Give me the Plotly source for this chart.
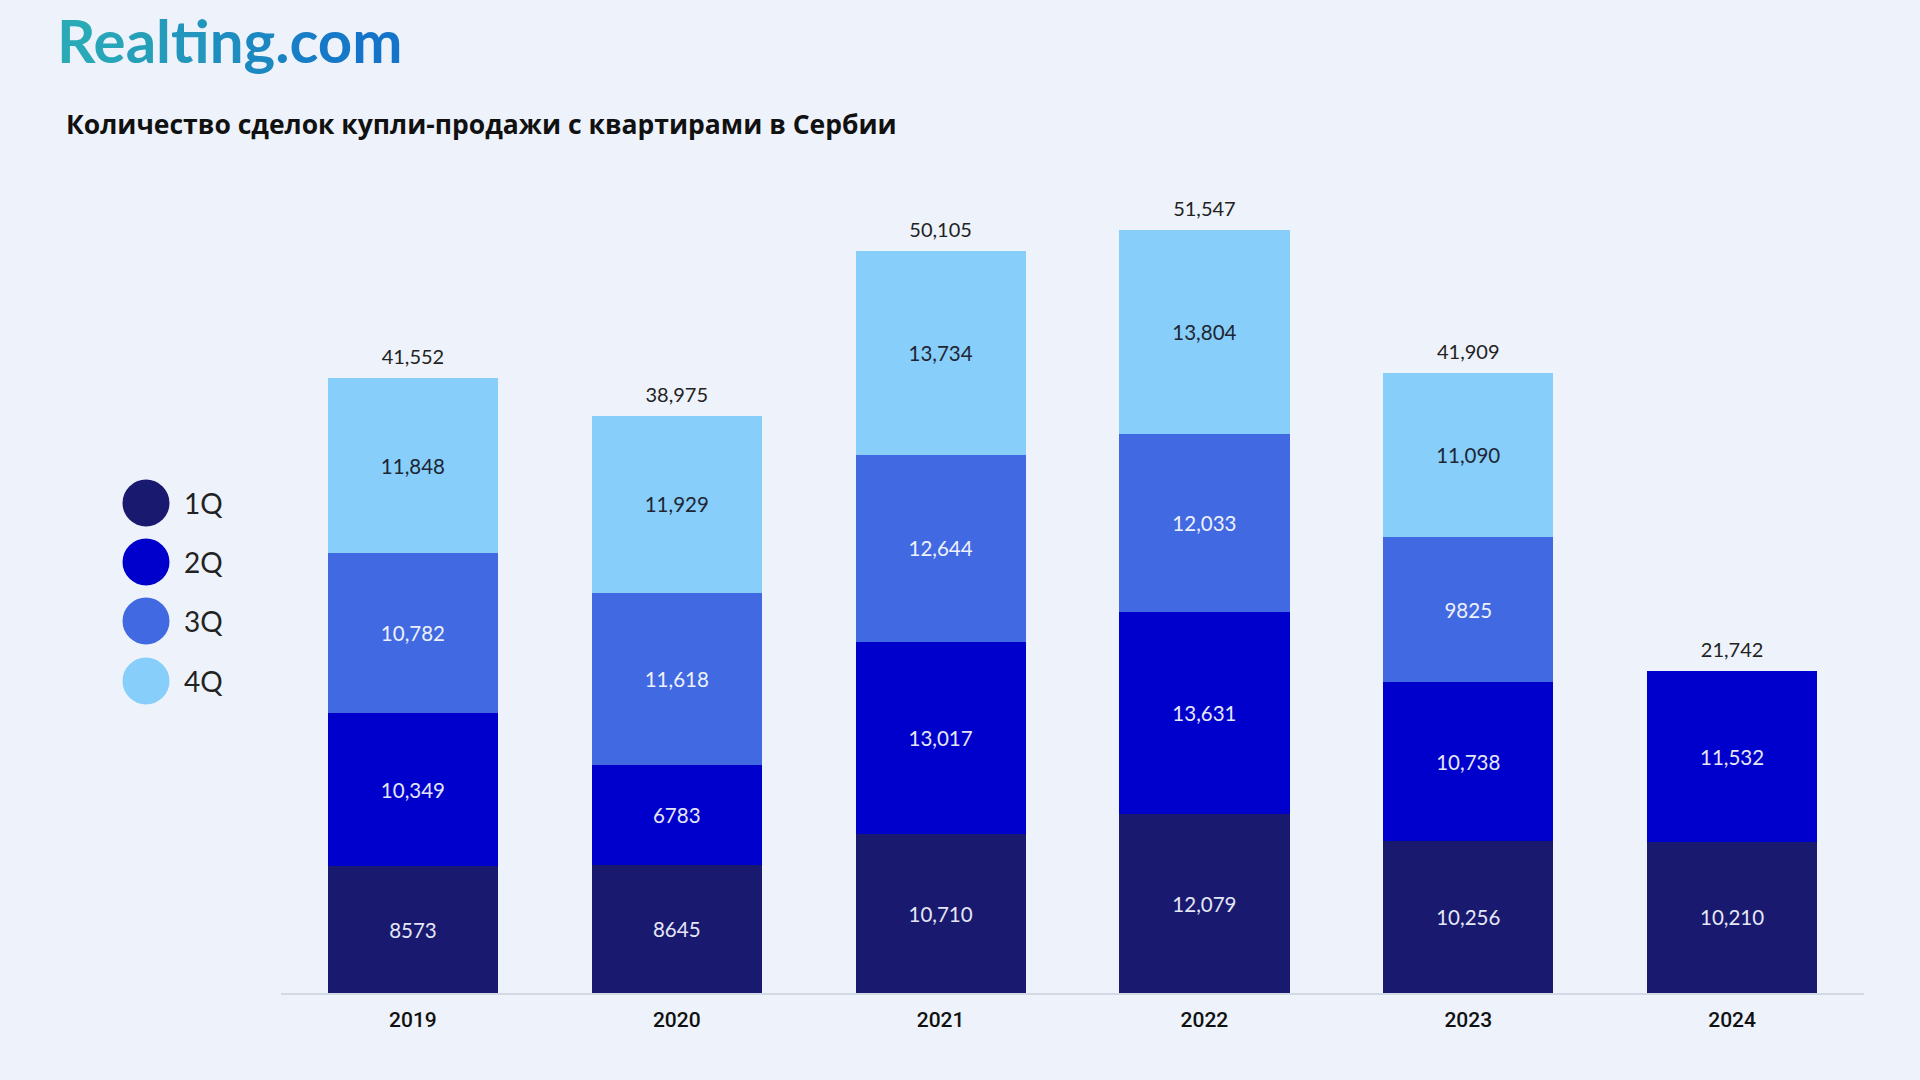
import plotly.graph_objects as go

years = ["2019", "2020", "2021", "2022", "2023", "2024"]
series_names = ["1Q", "2Q", "3Q", "4Q"]
q1 = [8573, 8645, 10710, 12079, 10256, 10210]
q2 = [10349, 6783, 13017, 13631, 10738, 11532]
q3 = [10782, 11618, 12644, 12033, 9825, None]
q4 = [11848, 11929, 13734, 13804, 11090, None]
totals = [41552, 38975, 50105, 51547, 41909, 21742]

colors = ["#191970", "#0000CD", "#4169E1", "#87CEFA"]
text_colors = ["#E4E7F5", "#E4E7F5", "#EEF1FB", "#1E2633"]
BG = "#EEF3FB"

W, H = 1920, 1080
L, R_, T, B = 281, 56, 180, 87
plot_w = W - L - R_
plot_h = H - T - B
Y_MAX = 54925


def fmt(v):
    return f"{v:,}" if v >= 10000 else str(v)


def px_x(px):
    return (px - L) / plot_w


def px_y(py):
    return (H - B - py) / plot_h


fig = go.Figure()
for name, vals, col, tcol in zip(series_names, [q1, q2, q3, q4], colors, text_colors):
    xs = [yr for yr, v in zip(years, vals) if v is not None]
    ys = [v for v in vals if v is not None]
    fig.add_trace(go.Bar(
        x=xs, y=ys, name=name,
        marker=dict(color=col, line=dict(width=0)),
        text=[fmt(v) for v in ys],
        textposition="inside", insidetextanchor="middle", textangle=0,
        textfont=dict(family="Lato", size=20.5, color=tcol),
        cliponaxis=False, showlegend=False,
    ))

fig.add_trace(go.Scatter(
    x=years, y=totals, mode="markers+text",
    marker=dict(size=13, color="rgba(0,0,0,0)"),
    text=[fmt(v) for v in totals], textposition="top center",
    textfont=dict(family="Lato", size=20, color="#222222"),
    cliponaxis=False, showlegend=False, hoverinfo="skip",
))

shapes = []
annotations = []
legend_y = [503, 562, 621, 681]
for name, col, ly in zip(series_names, colors, legend_y):
    shapes.append(dict(
        type="circle", xref="paper", yref="paper",
        xsizemode="pixel", ysizemode="pixel",
        xanchor=px_x(146), yanchor=px_y(ly),
        x0=-23.5, x1=23.5, y0=-23.5, y1=23.5,
        fillcolor=col, line=dict(width=0),
    ))
    annotations.append(dict(
        xref="paper", yref="paper", x=px_x(182), y=px_y(ly),
        xanchor="left", yanchor="middle", showarrow=False,
        text=name, font=dict(family="Lato", size=28, color="#222222"),
    ))

# Logo with gradient letters
logo = "Realting.com"
c0 = (0x2A, 0xAA, 0xB6)
c1 = (0x14, 0x74, 0xC9)
parts = []
for i, ch in enumerate(logo):
    t = i / (len(logo) - 1)
    c = tuple(round(a + (b - a) * t) for a, b in zip(c0, c1))
    parts.append(f'<span style="color:#{c[0]:02X}{c[1]:02X}{c[2]:02X}">{ch}</span>')
annotations.append(dict(
    xref="paper", yref="paper", x=px_x(55), y=px_y(40),
    xanchor="left", yanchor="middle", showarrow=False,
    text="<b>" + "".join(parts) + "</b>",
    font=dict(family="Lato", size=60, color="#1F8FC0"),
))
annotations.append(dict(
    xref="paper", yref="paper", x=px_x(64), y=px_y(124),
    xanchor="left", yanchor="middle", showarrow=False,
    text="<b>Количество сделок купли-продажи с квартирами в Сербии</b>",
    font=dict(family="Open Sans", size=26.5, color="#111111"),
))

fig.update_layout(
    width=W, height=H,
    paper_bgcolor=BG, plot_bgcolor=BG,
    barmode="stack", bargap=0.355,
    margin=dict(l=L, r=R_, t=T, b=B, autoexpand=False),
    showlegend=False,
    shapes=shapes, annotations=annotations,
    xaxis=dict(
        type="category", showline=True, linecolor="#D3D9E2", linewidth=2,
        ticks="outside", ticklen=7, tickcolor="rgba(0,0,0,0)",
        tickfont=dict(family="Roboto", size=21, color="#111111", weight=500),
        showgrid=False, zeroline=False, fixedrange=True,
    ),
    yaxis=dict(
        range=[0, Y_MAX], visible=False, showgrid=False, zeroline=False,
    ),
)

fig.write_html(
    "out.html",
    config={"displayModeBar": False},
    post_script="document.body.style.margin='0';document.body.style.overflow='hidden';",
)
